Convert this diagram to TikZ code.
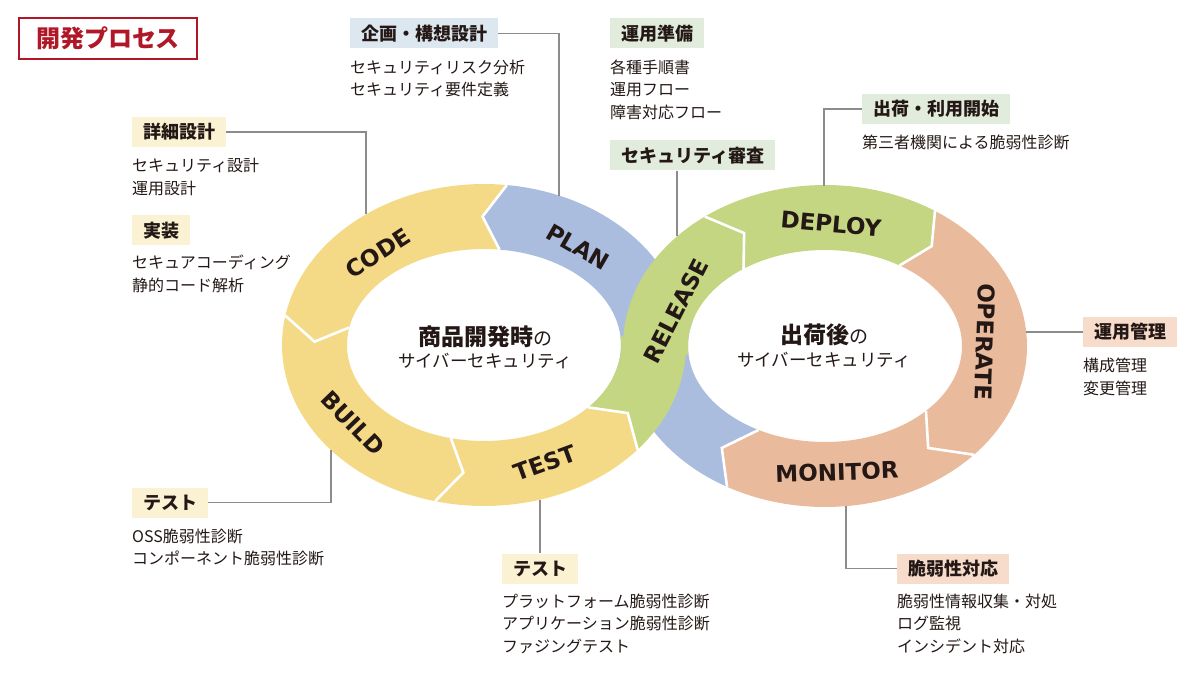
\documentclass[tikz,border=0pt]{standalone}
\usepackage{fontspec}
\setmainfont{Noto Sans CJK JP}
\newfontfamily\ringfont{DejaVu Sans}
\usepackage{tikz}
\usetikzlibrary{positioning}

\definecolor{bandyellow}{RGB}{244,218,135}
\definecolor{bandblue}{RGB}{170,189,222}
\definecolor{bandgreen}{RGB}{196,214,130}
\definecolor{bandorange}{RGB}{233,186,156}
\definecolor{tagyellow}{RGB}{251,242,212}
\definecolor{tagblue}{RGB}{221,231,240}
\definecolor{taggreen}{RGB}{226,236,220}
\definecolor{tagorange}{RGB}{247,220,204}
\definecolor{titlered}{RGB}{176,24,40}
\definecolor{inkdark}{RGB}{35,24,21}
\definecolor{leadergray}{RGB}{140,140,140}

% one arrow-shaped piece of a ring: colour, centre x, centre y, from, to, notch offset, tip offset
\newcommand\bandpiece[7]{%
  \fill[#1] plot[domain=#4:#5, samples=60] ({#2+202*cos(\x)},{#3-161*sin(\x)})
    -- ({#2+169.5*cos(#5+#7)},{#3-128.5*sin(#5+#7)})
    -- plot[domain=#5:#4, samples=60] ({#2+137*cos(\x)},{#3-96*sin(\x)})
    -- ({#2+169.5*cos(#4+#6)},{#3-128.5*sin(#4+#6)}) -- cycle;}
% white gap between two pieces
\newcommand\bandcut[4]{%
  \draw[cutline] ({#1+202*cos(#3)},{#2-161*sin(#3)})
    -- ({#1+169.5*cos(#3+#4)},{#2-128.5*sin(#3+#4)})
    -- ({#1+137*cos(#3)},{#2-96*sin(#3)});}

\begin{document}
\begin{tikzpicture}[
    x=1pt, y=-1pt,
    cutline/.style={white, line width=2.6pt, line join=miter},
    ringlabel/.style={font=\ringfont\bfseries\fontsize{23}{23}\selectfont, text=inkdark, inner sep=0pt},
    tag/.style={font=\bfseries\fontsize{18}{18}\selectfont, text=inkdark, inner xsep=11pt, inner ysep=6pt, text height=15.8pt, text depth=2.2pt, anchor=west},
    items/.style={font=\fontsize{16}{22.5}\selectfont, text=inkdark, align=left, inner sep=0pt},
    leader/.style={draw=leadergray, line width=1.2pt}
]
\useasboundingbox (0,0) rectangle (1200,679);

% title
\node[draw=titlered, line width=2pt, minimum width=178pt, minimum height=41pt, text=titlered,
      font=\bfseries\fontsize{24}{24}\selectfont] (title) at (108,38.5) {開発プロセス};

% rings: blue first, green on top at the crossing
\bandpiece{bandblue}{484}{345}{-20}{83.5}{0}{7}
\bandpiece{bandblue}{825}{346}{241}{165}{-8.5}{0}
\bandpiece{bandyellow}{484}{345}{83.5}{169.5}{7}{9}
\bandpiece{bandyellow}{484}{345}{169.5}{256}{9}{7}
\bandpiece{bandyellow}{484}{345}{256}{319.5}{7}{8.5}
\bandpiece{bandorange}{825}{346}{57}{-42.5}{-6}{-10}
\bandpiece{bandorange}{825}{346}{317.5}{241}{-10}{-8.5}
\bandpiece{bandgreen}{484}{345}{319.5}{365}{8.5}{0}
\bandpiece{bandgreen}{825}{346}{185}{126.5}{0}{-8}
\bandpiece{bandgreen}{825}{346}{126.5}{57}{-8}{-6}

\bandcut{484}{345}{83.5}{7}
\bandcut{484}{345}{169.5}{9}
\bandcut{484}{345}{256}{7}
\bandcut{484}{345}{319.5}{8.5}
\bandcut{825}{346}{126.5}{-8}
\bandcut{825}{346}{57}{-6}
\bandcut{825}{346}{-42.5}{-10}
\bandcut{825}{346}{241}{-8.5}

% ring labels
\node[ringlabel, rotate=33] (code) at (378,253) {CODE};
\node[ringlabel, rotate=-30] (plan) at (578,247) {PLAN};
\node[ringlabel, rotate=-46] (build) at (353,423) {BUILD};
\node[ringlabel, rotate=20] (test) at (545,463) {TEST};
\node[ringlabel, rotate=63] (release) at (676,311) {RELEASE};
\node[ringlabel, rotate=-5] (deploy) at (831,224) {DEPLOY};
\node[ringlabel, rotate=-92] (operate) at (985,342) {OPERATE};
\node[ringlabel, rotate=2] (monitor) at (837,472) {MONITOR};

% centre texts
\node[text=inkdark, font=\bfseries\fontsize{23}{23}\selectfont] (devtop) at (485,337)
  {商品開発時{\mdseries\fontsize{19}{19}\selectfont の}};
\node[text=inkdark, font=\fontsize{17.5}{17.5}\selectfont] (devbot) at (485,361) {サイバーセキュリティ};
\node[text=inkdark, font=\bfseries\fontsize{23}{23}\selectfont] (opstop) at (824,335)
  {出荷後{\mdseries\fontsize{19}{19}\selectfont の}};
\node[text=inkdark, font=\fontsize{17.5}{17.5}\selectfont] (opsbot) at (824,360) {サイバーセキュリティ};

% headings and their lists
\node[tag, fill=tagblue] (plantag) at (350,33.5) {企画・構想設計};
\node[items, below=11pt of plantag.south west, anchor=north west] (planlist)
  {セキュリティリスク分析\\セキュリティ要件定義};

\node[tag, fill=taggreen] (preptag) at (610,33.5) {運用準備};
\node[items, below=11pt of preptag.south west, anchor=north west] (preplist)
  {各種手順書\\運用フロー\\障害対応フロー};

\node[tag, fill=taggreen] (reviewtag) at (610,155.5) {セキュリティ審査};

\node[tag, fill=taggreen] (shiptag) at (862,109) {出荷・利用開始};
\node[items, below=11pt of shiptag.south west, anchor=north west] (shiplist)
  {第三者機関による脆弱性診断};

\node[tag, fill=tagyellow] (designtag) at (132,132) {詳細設計};
\node[items, below=11pt of designtag.south west, anchor=north west] (designlist)
  {セキュリティ設計\\運用設計};

\node[tag, fill=tagyellow] (impltag) at (132,230.5) {実装};
\node[items, below=9pt of impltag.south west, anchor=north west] (impllist)
  {セキュアコーディング\\静的コード解析};

\node[tag, fill=tagyellow] (testatag) at (132,502.5) {テスト};
\node[items, below=11pt of testatag.south west, anchor=north west] (testalist)
  {OSS脆弱性診断\\コンポーネント脆弱性診断};

\node[tag, fill=tagyellow] (testbtag) at (502,568.5) {テスト};
\node[items, below=10pt of testbtag.south west, anchor=north west] (testblist)
  {プラットフォーム脆弱性診断\\アプリケーション脆弱性診断\\ファジングテスト};

\node[tag, fill=tagorange] (vulntag) at (897,568.5) {脆弱性対応};
\node[items, below=10pt of vulntag.south west, anchor=north west] (vulnlist)
  {脆弱性情報収集・対処\\ログ監視\\インシデント対応};

\node[tag, fill=tagorange] (opmantag) at (1083,332) {運用管理};
\node[items, below=11pt of opmantag.south west, anchor=north west] (opmanlist)
  {構成管理\\変更管理};

% leader lines to the rings
\coordinate (planpt) at (559,196);
\coordinate (codept) at (366,214);
\coordinate (buildpt) at (331,450);
\coordinate (testpt) at (540,500);
\coordinate (releasept) at (677,236);
\coordinate (deploypt) at (824,186);
\coordinate (operatept) at (1026,332);
\coordinate (monitorpt) at (846,506);

\draw[leader] (plantag.east) -| (planpt);
\draw[leader] (designtag.east) -| (codept);
\draw[leader] (testatag.east) -| (buildpt);
\draw[leader] (testpt) -- (testpt |- testbtag.north);
\draw[leader] (releasept |- reviewtag.south) -- (releasept);
\draw[leader] (shiptag.west) -| (deploypt);
\draw[leader] (opmantag.west) -- (operatept);
\draw[leader] (vulntag.west) -| (monitorpt);
\end{tikzpicture}
\end{document}
